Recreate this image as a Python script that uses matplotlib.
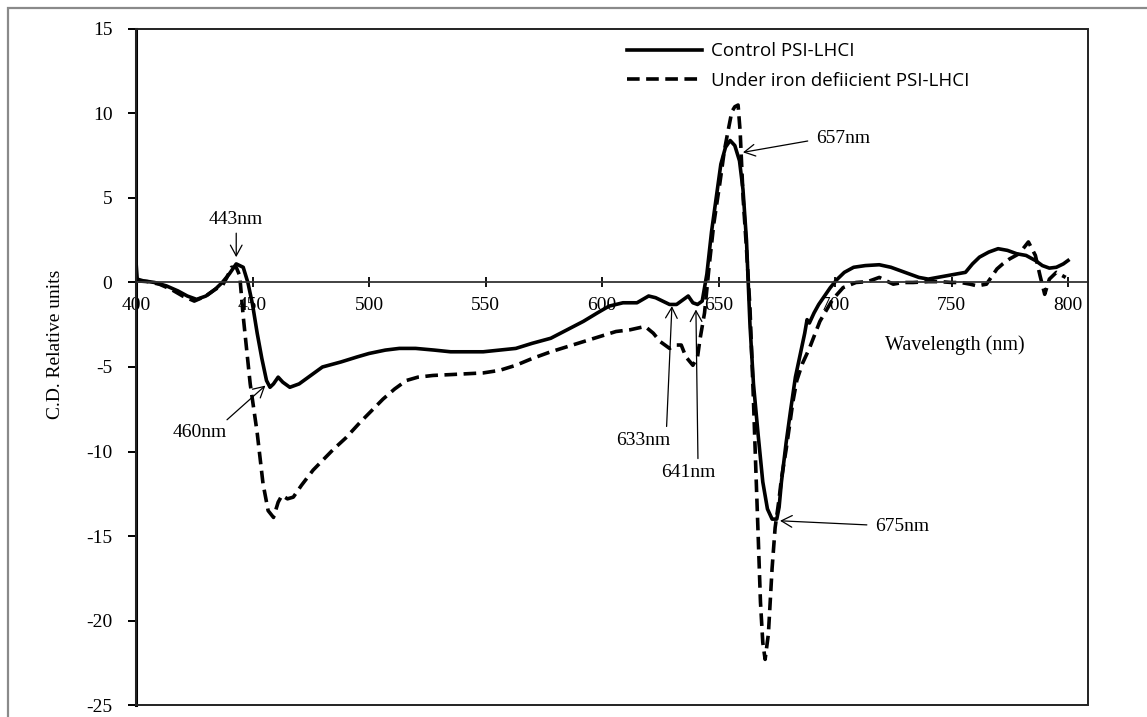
import matplotlib
matplotlib.use('Agg')
from matplotlib import pyplot as plt
from matplotlib.patches import Rectangle

plt.rcParams['axes.unicode_minus'] = False

# control PSI-LHCI
wl_ctrl = [400, 400.5, 403, 408, 413, 418, 422, 426, 430, 434, 437, 440, 443, 446, 448,
           450, 452, 454, 456, 457.5, 459, 461, 463, 466, 470, 475, 480, 488, 495, 500,
           507, 513, 520, 528, 535, 542, 549, 556, 563, 570, 578, 585, 592, 598, 603,
           609, 615, 620, 623, 626, 629, 632, 635, 637, 639, 641, 643, 645, 647, 649,
           651, 653, 655, 657, 659, 660.5, 662, 663.5, 665, 667, 669, 671, 673, 675,
           676, 677, 679, 681, 683, 685, 687, 688, 689, 691, 693, 695, 698, 701, 704,
           708, 713, 719, 724, 728, 732, 736, 740, 744, 748, 752, 756, 759, 762, 766,
           770, 774, 778, 782, 786, 789, 792, 795, 798, 800]
cd_ctrl = [1.2, 0.2, 0.1, 0.0, -0.2, -0.5, -0.8, -1.0, -0.8, -0.4, 0.0, 0.5, 1.1, 0.9, 0.0,
           -1.3, -3.0, -4.5, -5.8, -6.2, -6.0, -5.6, -5.9, -6.2, -6.0, -5.5, -5.0, -4.7, -4.4, -4.2,
           -4.0, -3.9, -3.9, -4.0, -4.1, -4.1, -4.1, -4.0, -3.9, -3.6, -3.3, -2.8, -2.3, -1.8, -1.4,
           -1.2, -1.2, -0.8, -0.9, -1.1, -1.3, -1.3, -1.0, -0.8, -1.2, -1.3, -1.1, 0.5, 3.0, 5.0,
           7.0, 8.0, 8.4, 8.1, 7.2, 5.5, 2.5, -2.5, -6.0, -9.0, -11.8, -13.4, -14.0, -14.0,
           -13.3, -11.8, -9.5, -7.5, -5.6, -4.3, -3.0, -2.2, -2.4, -1.8, -1.3, -0.9, -0.3, 0.2, 0.6,
           0.9, 1.0, 1.05, 0.9, 0.7, 0.5, 0.3, 0.2, 0.3, 0.4, 0.5, 0.6, 1.1, 1.5, 1.8,
           2.0, 1.9, 1.7, 1.6, 1.3, 1.0, 0.85, 0.9, 1.1, 1.3]

# under iron deficient PSI-LHCI
wl_fe = [400, 405, 410, 415, 420, 425, 430, 434, 437, 439, 441, 443, 444.5, 446, 449,
         452, 454.5, 456.7, 459, 461, 462.6, 465, 467.5, 471, 476, 484.5, 490, 496, 501, 506,
         511, 516, 521, 527.5, 535, 542, 549, 556, 563, 570, 578, 585, 592, 599, 606,
         612, 618.5, 622, 625, 629, 632, 634, 636, 639, 641, 642, 644, 646, 648, 650.6,
         652.5, 654, 655.7, 657, 658.4, 659.3, 660.6, 662, 663.5, 665, 666, 667, 668, 669,
         670, 671.4, 673, 674.3, 676, 677, 679, 682, 683.6, 686, 689, 693.5, 699, 703.5,
         709, 714, 719, 722, 725, 729, 733.5, 740, 745, 750, 754, 758, 761, 765, 767,
         769.5, 772, 775, 779, 783, 786, 788, 790, 792, 795, 799]
cd_fe = [0.1, 0.05, -0.1, -0.4, -0.8, -1.1, -0.8, -0.4, -0.2, 0.3, 0.9, 0.9, 0.4, -2.0, -6.0,
         -8.9, -11.9, -13.5, -13.9, -13.0, -12.6, -12.8, -12.7, -12.0, -11.1, -9.9, -9.2, -8.3, -7.6, -6.9,
         -6.3, -5.8, -5.6, -5.5, -5.45, -5.4, -5.35, -5.2, -4.9, -4.5, -4.1, -3.8, -3.5, -3.2, -2.9,
         -2.8, -2.6, -3.0, -3.5, -3.9, -3.7, -3.7, -4.4, -4.9, -4.4, -3.4, -1.8, 1.0, 3.5, 5.9,
         7.8, 8.9, 10.1, 10.4, 10.5, 8.9, 4.9, 2.0, -1.5, -7.0, -11.0, -14.9, -18.9, -21.3,
         -22.3, -20.8, -16.9, -14.5, -12.8, -11.6, -9.9, -7.0, -5.8, -4.8, -3.9, -2.3, -1.0, -0.3,
         0.0, 0.05, 0.3, 0.1, -0.1, 0.0, 0.0, 0.05, 0.05, 0.0, 0.0, -0.1, -0.2, -0.1, 0.3,
         0.8, 1.1, 1.4, 1.7, 2.4, 1.6, 0.4, -0.7, 0.2, 0.6, 0.3]

xticks = [400, 450, 500, 550, 600, 650, 700, 750, 800]
yticks = [-25, -20, -15, -10, -5, 0, 5, 10, 15]

# (label, point, text position, relpos of arrow start)
peaks = [
    ('443nm', (443, 1.5), (443, 3.75), (0.5, 0.0)),
    ('460nm', (455.5, -6.1), (427.5, -8.9), (0.9, 1.0)),
    ('633nm', (630, -1.4), (617.6, -9.35), (0.93, 1.0)),
    ('641nm', (640.3, -1.6), (637, -11.25), (0.68, 1.0)),
    ('657nm', (660.5, 7.7), (703.4, 8.5), (-0.1, 0.4)),
    ('675nm', (676.4, -14.1), (728.8, -14.45), (-0.1, 0.6)),
]

serif = ['Liberation Serif', 'DejaVu Serif']
sans = ['Open Sans', 'DejaVu Sans']

fig = plt.figure(figsize=(11.47, 7.17), dpi=100)
ax = fig.add_axes([0.1186, 0.0167, 0.83, 0.9429])

ax.plot(wl_ctrl, cd_ctrl, color='black', lw=2.6, solid_joinstyle='round',
        label='Control PSI-LHCI')
ax.plot(wl_fe, cd_fe, color='black', lw=2.6, dashes=(3.5, 1.8),
        label='Under iron defiicient PSI-LHCI')

ax.set_xlim(400, 808.6)
ax.set_ylim(-25, 15)
ax.set_xticks(xticks)
ax.set_yticks(yticks)

for s in ['top', 'right', 'left']:
    ax.spines[s].set_visible(False)
ax.spines['bottom'].set_position(('data', 0))
ax.spines['bottom'].set_linewidth(1.3)
ax.spines['bottom'].set_color('#333333')
ax.add_patch(Rectangle((0, 0), 1, 1, transform=ax.transAxes, fill=False,
                       edgecolor='#222222', lw=1.4, clip_on=False, zorder=5))
ax.plot([0, 0], [0, 1], transform=ax.transAxes, color='black', lw=2.2, clip_on=False)

ax.tick_params(axis='x', direction='inout', length=7, width=1.3, pad=7)
ax.tick_params(axis='y', direction='out', length=6, width=1.4, pad=11)
for lab in ax.get_xticklabels() + ax.get_yticklabels():
    lab.set_family(serif)
    lab.set_fontsize(14)

fig.text(56 / 1147, 1 - 344 / 717, 'C.D. Relative units', rotation=90,
         ha='center', va='center', family=serif, fontsize=14)
ax.text(751.5, -3.7, 'Wavelength (nm)', ha='center', va='center',
        family=serif, fontsize=14.5)

for lab, xy, xyt, rp in peaks:
    ax.annotate(lab, xy=xy, xytext=xyt, ha='center', va='center',
                family=serif, fontsize=14,
                arrowprops=dict(arrowstyle='->,head_length=0.55,head_width=0.3',
                                color='black', lw=0.9, relpos=rp,
                                shrinkA=2, shrinkB=0))

leg = ax.legend(loc='upper left', bbox_to_anchor=(618 / 1147, 1 - 33 / 717),
                bbox_transform=fig.transFigure, frameon=False, borderpad=0,
                handlelength=4.0, handletextpad=0.45, labelspacing=0.6,
                prop={'family': sans, 'size': 13.5})

fig.add_artist(Rectangle((8 / 1147, -0.1), 1.2, 0.1 + 1 - 8 / 717,
                         transform=fig.transFigure, fill=False,
                         edgecolor='#8a8a8a', lw=1.6))

fig.savefig('out.png', dpi=100)
